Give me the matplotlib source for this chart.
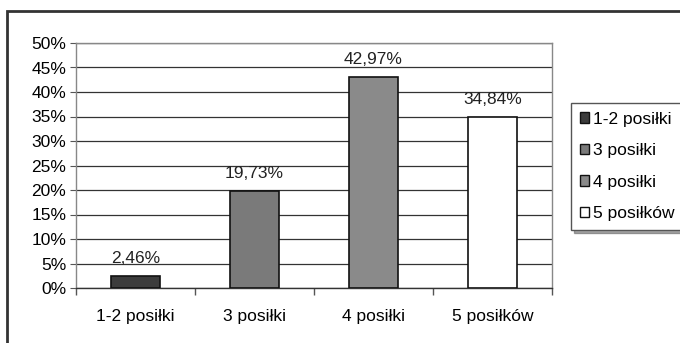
import matplotlib
matplotlib.use("Agg")
import matplotlib.pyplot as plt
from matplotlib.patches import Patch, Rectangle
from matplotlib.ticker import FuncFormatter

plt.rcParams['font.family'] = ['Liberation Sans', 'DejaVu Sans']

categories = ["1-2 posiłki", "3 posiłki", "4 posiłki", "5 posiłków"]
values = [2.46, 19.73, 42.97, 34.84]
value_labels = ["2,46%", "19,73%", "42,97%", "34,84%"]
colors = ["#3c3c3c", "#7a7a7a", "#8a8a8a", "#ffffff"]
y_ticks = [0, 5, 10, 15, 20, 25, 30, 35, 40, 45, 50]

FS = 12.5

fig = plt.figure(figsize=(6.8, 3.43), dpi=100)
fig.patch.set_facecolor("white")

# outer chart frame (partly outside the canvas on the right and bottom)
frame = Rectangle((7 / 680, -0.2), 1.0, 1.2 - 10.5 / 343,
                  transform=fig.transFigure, fill=False,
                  edgecolor="#333333", linewidth=2.0)
fig.patches.append(frame)

ax = fig.add_axes([76 / 680, 1 - 288 / 343, 476 / 680, 245 / 343])
x = list(range(len(categories)))
bars = ax.bar(x, values, width=0.41, color=colors, edgecolor="#111111",
              linewidth=1.2, zorder=3)

for xi, v, lab in zip(x, values, value_labels):
    ax.annotate(lab, (xi, v), xytext=(0, 7.5), textcoords="offset points",
                ha="center", va="bottom", fontsize=FS, color="#222222")

ax.set_xlim(-0.5, len(categories) - 0.5)
ax.set_ylim(0, 50)
ax.set_yticks(y_ticks)
ax.yaxis.set_major_formatter(FuncFormatter(lambda v, p: f"{v:.0f}%"))
ax.yaxis.grid(True, color="#333333", linewidth=0.9, zorder=0)

ax.set_xticks(x)
ax.set_xticklabels(categories)
ax.set_xticks([i - 0.5 for i in range(len(categories) + 1)], minor=True)
ax.tick_params(axis="x", which="major", length=0, pad=15, labelsize=FS)
ax.tick_params(axis="x", which="minor", length=5, color="#555555", width=1)
ax.tick_params(axis="y", length=4, color="#555555", labelsize=FS, pad=3)

for s in ["left", "right", "top", "bottom"]:
    ax.spines[s].set_color("#888888")
    ax.spines[s].set_linewidth(1.0)
ax.spines["bottom"].set_color("#333333")

handles = [Patch(facecolor=c, edgecolor="#111111", linewidth=1.0)
           for c in colors]
leg = fig.legend(handles, categories, loc="upper left",
                 bbox_to_anchor=(571 / 680, 1 - 103 / 343),
                 fontsize=FS, frameon=True, fancybox=False, shadow=True,
                 handlelength=0.55, handleheight=0.55, handletextpad=0.2,
                 labelspacing=0.95, borderpad=0.5, borderaxespad=0)
leg.get_frame().set_edgecolor("#555555")
leg.get_frame().set_linewidth(1.0)

fig.savefig("out.png", dpi=100, facecolor="white")
